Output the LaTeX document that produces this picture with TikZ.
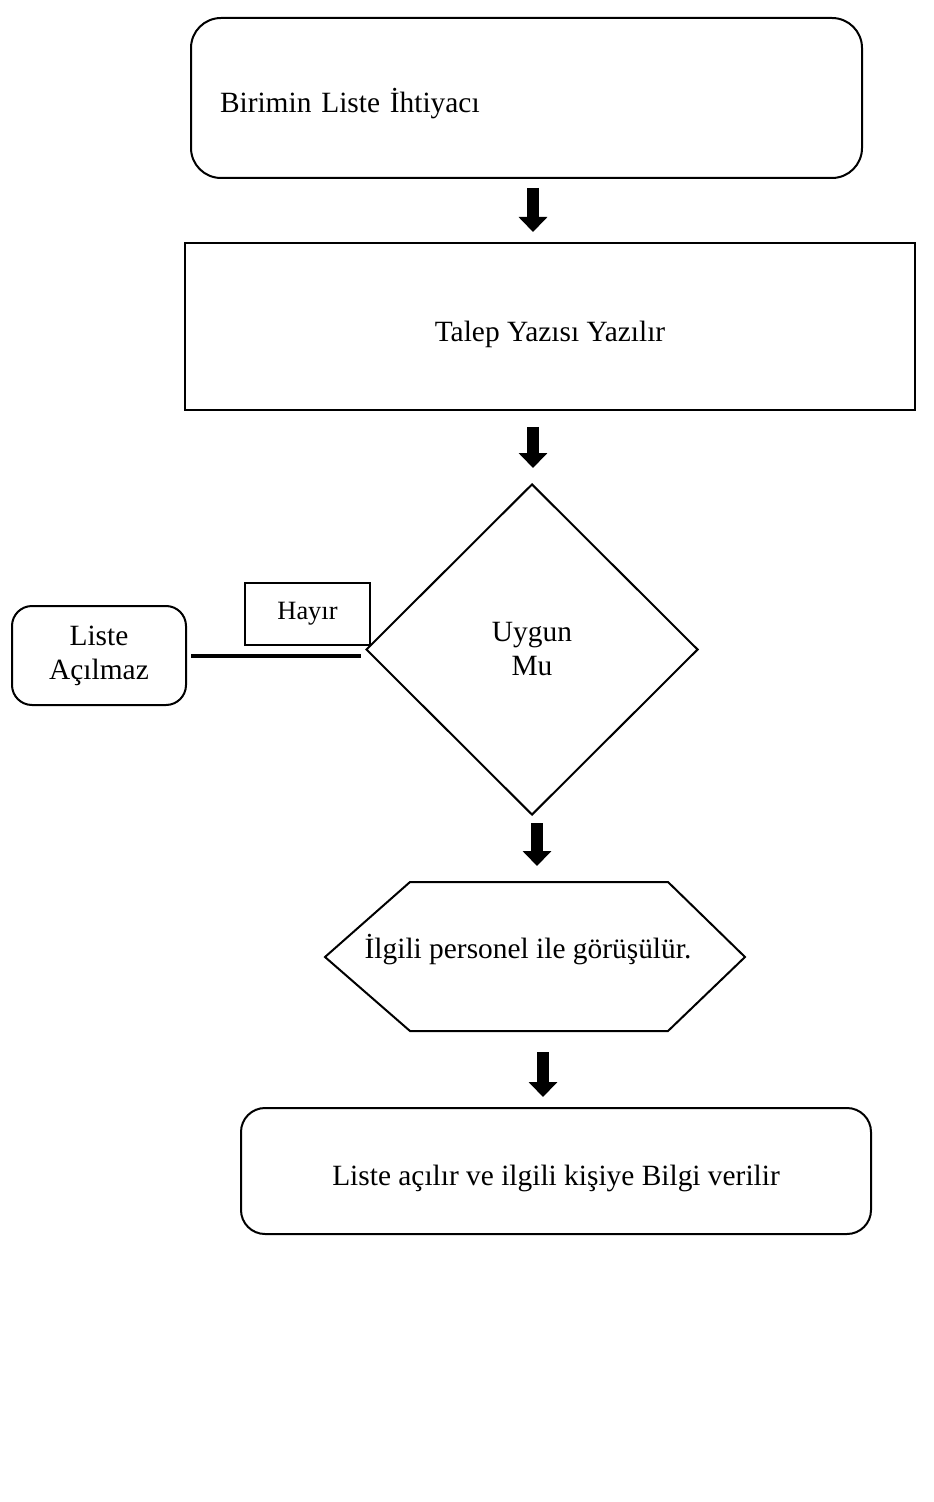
\documentclass[tikz,border=0pt]{standalone}
\usepackage{fontspec}
\setmainfont{Liberation Serif}
\usetikzlibrary{shapes.geometric, arrows.meta, positioning}

\newcommand{\lowtext}[2]{\raisebox{-#1}[\height][\depth]{#2}}

\begin{document}
\begin{tikzpicture}[x=0.5pt, y=-0.5pt,
		every node/.style={font=\fontsize{14.7}{17}\selectfont},
		box/.style={draw, line width=1pt, inner sep=0pt},
		blk/.style={line width=6pt, -{Triangle[width=14pt, length=7.5pt]}}]
		\useasboundingbox (0,0) rectangle (933,1502);
		\draw (526.5,98) node[box, rounded corners=15pt, minimum width=335.5pt, minimum height=80pt,
			text width=306.5pt, inner xsep=14.5pt, align=left] (need) {\lowtext{3pt}{Birimin Liste İhtiyacı}}
		(550,326.5) node[box, minimum width=365pt, minimum height=83.5pt] (req) {\lowtext{4pt}{Talep Yazısı Yazılır}}
		(532,649.5) node[box, diamond, minimum width=166pt, minimum height=165.5pt, align=center] (dec) {Uygun\\Mu}
		(307.5,614) node[box, minimum width=62.5pt, minimum height=31pt,
			font=\fontsize{13.2}{16}\selectfont] (no) {Hayır}
		(99,655.5) node[box, rounded corners=10pt, minimum width=87pt, minimum height=49.5pt, align=center] (lst) {Liste\\Açılmaz}
		(528,950) node (talk) {İlgili personel ile görüşülür.}
		(556,1171) node[box, rounded corners=12pt, minimum width=315pt, minimum height=63pt] (done) {\lowtext{3.5pt}{Liste açılır ve ilgili kişiye Bilgi verilir}};

		% hexagon round the talk node
		\draw[line width=1pt] (325,957) -- (410,882) -- (668,882) -- (745,957) -- (668,1031) -- (410,1031) -- cycle;

		% block arrows
		\coordinate (a1s) at (533,188); \coordinate (a1e) at (533,232);
		\coordinate (a2s) at (533,427); \coordinate (a2e) at (533,468);
		\coordinate (a3s) at (537,823); \coordinate (a3e) at (537,866);
		\coordinate (a4s) at (543,1052); \coordinate (a4e) at (543,1097);
		\draw[blk] (a1s) -- (a1e);
		\draw[blk] (a2s) -- (a2e);
		\draw[blk] (a3s) -- (a3e);
		\draw[blk] (a4s) -- (a4e);

		\draw[line width=2pt, shorten <=2pt, shorten >=2pt] (lst.east) -- (lst.east -| dec.west);
	\end{tikzpicture}
\end{document}
